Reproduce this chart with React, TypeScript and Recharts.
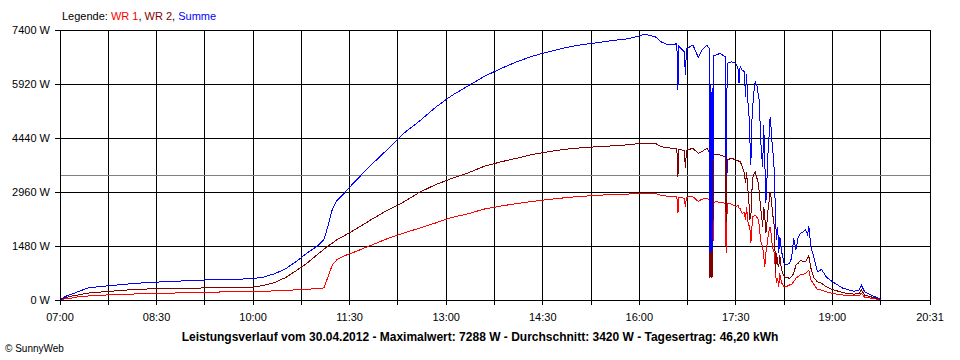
import React from 'react'
import {
  CartesianGrid, Line, LineChart, ReferenceLine, XAxis, YAxis,
} from 'recharts'

// minutes after 07:00
const minutes = [
  0, 3, 6, 10, 17, 26, 35, 45, 60, 75, 90, 105, 120, 135, 150, 165, 180, 190, 200, 210,
  220, 230, 240, 246, 250, 254, 258, 265, 275, 290, 305, 320, 335, 350, 365, 380, 395, 410, 425, 440,
  455, 470, 485, 500, 515, 530, 540, 545, 555, 560, 565, 572, 575, 576, 577, 582, 583, 584, 590, 595,
  598, 603, 605, 605.5, 606, 606.5, 607, 607.5, 608, 608.5, 609, 612, 615, 620, 621, 622, 626, 630, 632, 633,
  634, 636, 638, 639, 640, 641, 642, 643, 644, 645, 646, 647, 648, 650, 651, 652, 653, 654, 655, 656,
  657, 658, 659, 660, 661, 662, 663, 664, 665, 666, 667, 668, 669, 670, 671, 672, 673, 675, 677, 680,
  682, 684, 686, 688, 690, 693, 695, 697, 698, 700, 703, 706, 710, 714, 720, 730, 740, 745, 747, 750,
  758, 765,
]

const summe = [
  0, 60, 110, 150, 230, 330, 360, 390, 430, 465, 490, 510, 530, 548, 560, 570, 585, 630, 720, 850,
  1050, 1280, 1480, 1650, 2050, 2500, 2720, 2930, 3250, 3700, 4120, 4560, 4900, 5280, 5600, 5860, 6120, 6330, 6520, 6680,
  6800, 6910, 6990, 7050, 7110, 7160, 7240, 7288, 7215, 7080, 7015, 6990, 7035, 5760, 6950, 6800, 6165, 6880, 6990, 6650,
  6835, 6990, 6900, 1300, 5900, 1350, 5700, 1280, 5800, 1400, 6700, 6715, 6760, 6670, 3430, 6485, 6530, 6485, 6350, 5940,
  6400, 6300, 6255, 5570, 6200, 5480, 5255, 4475, 3700, 4930, 5400, 5755, 5985, 5845, 5600, 5435, 4475, 4000, 3655, 4795,
  3840, 2650, 3300, 4020, 4500, 5025, 4660, 4200, 3930, 3470, 2190, 1645, 2000, 1280, 1735, 1500, 1280, 1000, 960, 1005,
  1150, 1690, 1370, 1700, 1830, 1870, 1920, 1780, 2030, 1460, 1140, 775, 840, 640, 500, 320, 240, 275, 410, 230,
  110, 20,
]

const wr2 = [
  0, 40, 70, 100, 140, 190, 210, 235, 270, 295, 310, 318, 325, 330, 335, 340, 350, 400, 480, 610,
  800, 1000, 1250, 1390, 1480, 1560, 1650, 1760, 1930, 2200, 2460, 2680, 2950, 3160, 3330, 3480, 3660, 3780, 3880, 3990,
  4060, 4130, 4170, 4200, 4225, 4255, 4290, 4300, 4295, 4210, 4175, 4155, 4160, 3380, 4130, 4100, 3610, 4110, 4155, 4020,
  4060, 4155, 4065, 600, 3500, 640, 3300, 590, 3400, 620, 3990, 4000, 3975, 3930, 2150, 3840, 3885, 3840, 3820, 3780,
  3800, 3650, 3470, 3200, 3500, 3100, 2800, 2190, 2285, 3000, 3380, 3450, 3515, 3300, 3200, 2900, 2560, 2300, 2010, 2560,
  2300, 1830, 2100, 2465, 2700, 2970, 2800, 2465, 2200, 2010, 730, 1280, 1000, 915, 1235, 960, 800, 640, 620, 595,
  650, 730, 960, 1000, 1080, 1060, 1050, 1150, 1205, 870, 600, 500, 455, 365, 290, 200, 160, 185, 275, 135,
  70, 15,
]

const wr1 = [
  0, 20, 40, 50, 90, 110, 125, 140, 155, 170, 180, 190, 200, 210, 220, 225, 235, 240, 250, 260,
  280, 295, 310, 330, 650, 970, 1100, 1210, 1320, 1500, 1680, 1830, 1970, 2110, 2260, 2360, 2490, 2570, 2640, 2700,
  2755, 2800, 2840, 2865, 2895, 2905, 2920, 2925, 2920, 2870, 2850, 2830, 2835, 2375, 2820, 2790, 2560, 2820, 2830, 2700,
  2760, 2790, 2740, 650, 2400, 700, 2300, 640, 2350, 660, 2680, 2690, 2680, 2650, 1280, 2650, 2630, 2560, 2600, 2520,
  2500, 2375, 2400, 2190, 2550, 2200, 2050, 2010, 1555, 2000, 2285, 2300, 2330, 2250, 2190, 2000, 1645, 1550, 1460, 1200,
  915, 1280, 1500, 1735, 1900, 2010, 1800, 1460, 1350, 1280, 730, 455, 600, 365, 730, 550, 450, 370, 365, 410,
  430, 500, 595, 640, 685, 710, 730, 780, 820, 550, 420, 290, 270, 230, 180, 135, 115, 110, 185, 75,
  40, 10,
]

const xTicks = [0, 45, 90, 135, 180, 225, 270, 315, 360, 405, 450, 495, 540, 585, 630, 675, 720, 765, 811]
const xTickLabels = ['07:00', '', '08:30', '', '10:00', '', '11:30', '', '13:00', '', '14:30', '', '16:00', '', '17:30', '', '19:00', '', '20:31']
const yTicks = [0, 1480, 2960, 4440, 5920, 7400]
const average = 3420

const data = minutes.map((t, i) => ({ t, wr1: wr1[i], wr2: wr2[i], summe: summe[i] }))

export default function App() {
  return (
    <div style={{
      position: 'absolute', left: 0, top: 0, width: 960, height: 360, background: '#fff',
      fontFamily: '"Liberation Sans", Arial, sans-serif', color: '#000',
    }}
    >
      <style>{`
        .recharts-cartesian-grid line, .recharts-reference-line line, .recharts-cartesian-axis line,
        .recharts-line path { shape-rendering: crispEdges; }
      `}</style>
      <div style={{ position: 'absolute', left: 62, top: 10, fontSize: 11, lineHeight: '13px', whiteSpace: 'nowrap' }}>
        Legende: <span style={{ color: '#ff0000' }}>WR 1</span>, <span style={{ color: '#800000' }}>WR 2</span>, <span style={{ color: '#0000ff' }}>Summe</span>
      </div>
      <LineChart
        width={960}
        height={360}
        data={data}
        margin={{
          top: 30, right: 30, left: 0, bottom: 40,
        }}
      >
        <CartesianGrid stroke='#000' />
        <XAxis
          dataKey='t'
          type='number'
          domain={[0, 811]}
          ticks={xTicks}
          interval={0}
          height={20}
          tickSize={5}
          tickMargin={8}
          stroke='#000'
          tick={{ fill: '#000', fontSize: 11 }}
          tickFormatter={(v: number) => xTickLabels[xTicks.indexOf(v)] ?? ''}
        />
        <YAxis
          type='number'
          domain={[0, 7400]}
          ticks={yTicks}
          interval={0}
          width={60}
          tickSize={5}
          tickMargin={5}
          stroke='#000'
          tick={{ fill: '#000', fontSize: 11 }}
          tickFormatter={(v: number) => `${v} W`}
        />
        <ReferenceLine y={average} stroke='#808080' />
        <Line type='linear' dataKey='wr1' stroke='#ff0000' strokeWidth={1} dot={false} isAnimationActive={false} />
        <Line type='linear' dataKey='wr2' stroke='#800000' strokeWidth={1} dot={false} isAnimationActive={false} />
        <Line type='linear' dataKey='summe' stroke='#0000ff' strokeWidth={1} dot={false} isAnimationActive={false} />
      </LineChart>
      <div style={{
        position: 'absolute', left: 0, width: 960, top: 330, textAlign: 'center', fontSize: 12, fontWeight: 'bold', whiteSpace: 'nowrap',
      }}
      >
        Leistungsverlauf vom 30.04.2012 - Maximalwert: 7288 W - Durchschnitt: 3420 W - Tagesertrag: 46,20 kWh
      </div>
      <div style={{ position: 'absolute', left: 5, top: 343, fontSize: 10, whiteSpace: 'nowrap' }}>
        © SunnyWeb
      </div>
    </div>
  )
}
